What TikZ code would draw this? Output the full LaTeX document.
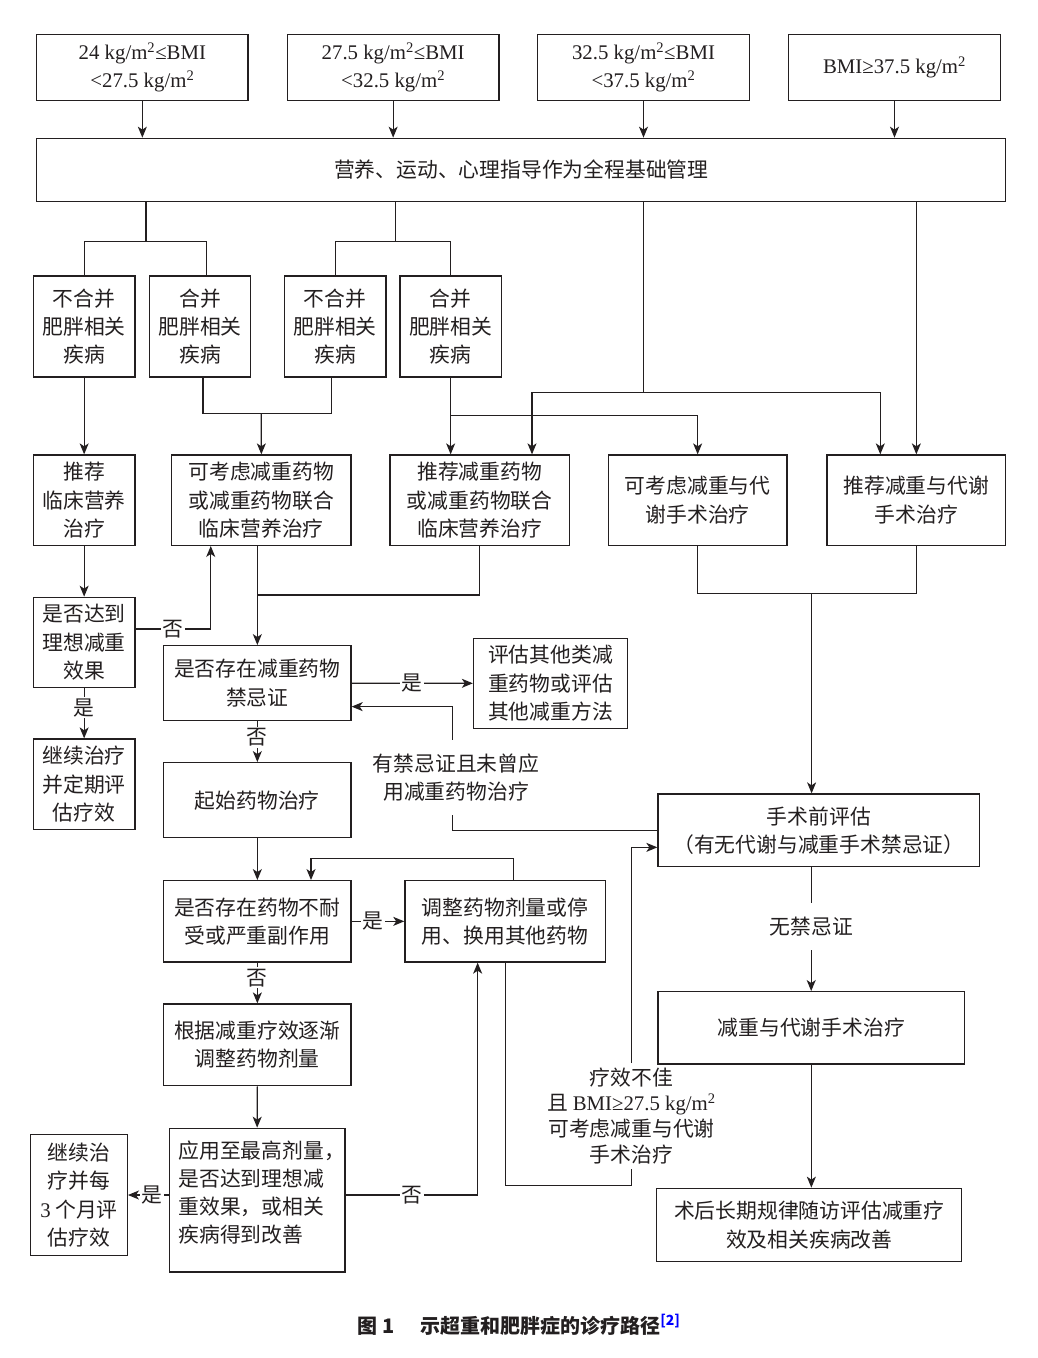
\documentclass[tikz,border=0pt]{standalone}
\usepackage{fontspec}
\setmainfont{Liberation Serif}
\newfontfamily\cjk{Noto Sans CJK SC}
\usetikzlibrary{arrows.meta,calc}
\definecolor{ink}{RGB}{35,31,32}
\newcommand\fs{\fontsize{20.8}{28.3}\selectfont}
\newcommand\lat[1]{{\rmfamily #1}}
\newcommand\msq{m\textsuperscript{2}}
\newcommand\bx[6]{\node[fbox, minimum width={(#4)-(#2)}, minimum height={(#5)-(#3)}] (#1) at ({((#2)+(#4))/2},{((#3)+(#5))/2}) {#6};}
\begin{document}
\begin{tikzpicture}[x=1pt,y=-1pt,
  every node/.style={text=ink, font=\cjk\fs},
  fbox/.style={draw=ink, line width=1.3pt, inner sep=0pt, align=center},
  conn/.style={draw=ink, line width=1.2pt},
  arr/.style={conn, -{Stealth[length=11pt,width=9pt,inset=3pt]}},
  lbl/.style={fill=white, inner sep=1.5pt},
]
\fill[white] (0,0) rectangle (1037,1358);
\useasboundingbox (0,0) rectangle (1037,1358);

% boxes
\bx{t1}{36.7}{34.3}{248}{100.7}{\lat{24 kg/\msq≤BMI}\\\lat{<27.5 kg/\msq}}
\bx{t2}{287.3}{34.3}{499}{100.7}{\lat{27.5 kg/\msq≤BMI}\\\lat{<32.5 kg/\msq}}
\bx{t3}{537.7}{34.3}{749.3}{100.7}{\lat{32.5 kg/\msq≤BMI}\\\lat{<37.5 kg/\msq}}
\bx{t4}{788.7}{34.3}{1000.3}{100.7}{\lat{BMI≥37.5 kg/\msq}}
\bx{base}{36.7}{138.3}{1005.7}{201.7}{营养、运动、心理指导作为全程基础管理}
\bx{A}{33.3}{276}{135}{377}{不合并\\肥胖相关\\疾病}
\bx{B}{149.3}{276}{250.7}{377}{合并\\肥胖相关\\疾病}
\bx{C}{284.3}{276}{386}{377}{不合并\\肥胖相关\\疾病}
\bx{D}{400}{276}{501.3}{377}{合并\\肥胖相关\\疾病}
\bx{E}{33.3}{455}{135}{545.3}{推荐\\临床营养\\治疗}
\bx{F}{171.7}{455}{351}{545.3}{可考虑减重药物\\或减重药物联合\\临床营养治疗}
\bx{G}{390}{455}{569.3}{545.3}{推荐减重药物\\或减重药物联合\\临床营养治疗}
\bx{H}{608.3}{455}{787}{545.3}{可考虑减重与代\\谢手术治疗}
\bx{I}{827}{455}{1005.7}{545.3}{推荐减重与代谢\\手术治疗}
\bx{Q1}{33.3}{597.3}{135}{687.3}{是否达到\\理想减重\\效果}
\bx{C1}{33.3}{739}{135}{829.3}{继续治疗\\并定期评\\估疗效}
\bx{J}{163.7}{645.7}{351}{720.7}{是否存在减重药物\\禁忌证}
\bx{K}{473.5}{638.3}{627.4}{728.3}{评估其他类减\\重药物或评估\\其他减重方法}
\bx{L}{163.7}{762.7}{351}{837.7}{起始药物治疗}
\bx{M}{658}{794}{979.8}{866.7}{手术前评估\\（有无代谢与减重手术禁忌证）}
\bx{O}{163.7}{880.7}{351}{962}{是否存在药物不耐\\受或严重副作用}
\bx{N}{404.9}{880.7}{605.4}{962}{调整药物剂量或停\\用、换用其他药物}
\bx{S}{163.7}{1004}{351}{1085.7}{根据减重疗效逐渐\\调整药物剂量}
\bx{P}{169.3}{1128.3}{345}{1272}{}
\node[anchor=west, align=left, inner sep=0pt] (Ptxt) at (178.3,1192.5) {应用至最高剂量，\\是否达到理想减\\重效果，或相关\\疾病得到改善};
\bx{T}{30.7}{1134.3}{127.3}{1255.7}{继续治\\疗并每\\\lat{3} 个月评\\估疗效}
\bx{Q}{658}{991.7}{964.7}{1064}{减重与代谢手术治疗}
\bx{R}{656.7}{1188.3}{961.7}{1261.7}{术后长期规律随访评估减重疗\\效及相关疾病改善}

% free labels
\node[minimum height=75, inner sep=0pt, align=center] (L1) at (456,777.5) {有禁忌证且未曾应\\用减重药物治疗};
\node[minimum height=105, inner sep=0pt, align=center, font=\cjk\fontsize{20.8}{25.6}\selectfont] (L2) at (631.5,1115.8) {疗效不佳\\且 \lat{BMI≥27.5 kg/\msq}\\可考虑减重与代谢\\手术治疗};
\node[minimum height=46.7, inner sep=0pt] (L3) at (811.2,926.7) {无禁忌证};

% junction points
\coordinate (j1) at (146,241.7);
\coordinate (j2) at (395.3,241.7);
\coordinate (m7) at (643.7,392.3);
\coordinate (m7l) at (532,392.3);
\coordinate (m7r) at (880.3,392.3);
\coordinate (m1) at (261.3,413.7);
\coordinate (m2) at (450.7,415.7);
\coordinate (m3) at (257.3,595);
\coordinate (m6) at (811.6,593.3);
\coordinate (m4) at (311,858.3);
\coordinate (m5) at (631.5,1185.7);

% connectors
\foreach \t in {t1,t2,t3,t4} \draw[arr] (\t.south) -- (\t.south |- base.north);
\draw[conn] (base.south -| j1) -- (j1) -| (A.north);
\draw[conn] (j1) -| ([xshift=6.7pt]B.north);
\draw[conn] (base.south -| j2) -- (j2) -| (C.north);
\draw[conn] (j2) -| (D.north);
\draw[conn] (base.south -| m7) -- (m7);
\draw[arr] (m7) -- (m7l) -- (m7l |- G.north);
\draw[arr] (m7) -- (m7r) -- (m7r |- I.north);
\draw[arr] (base.south -| I.north) -- (I.north);
\draw[arr] (A.south) -- (E.north);
\draw[conn] ([xshift=3pt]B.south) |- (m1) -| ([xshift=-4pt]C.south);
\draw[arr] (m1) -- (F.north);
\draw[arr] (D.south) -- (D.south |- G.north);
\draw[arr] (m2) -| (H.north);

\draw[arr] (E.south) -- (Q1.north);
\draw[arr] (Q1.south) -- node[lbl,pos=0.39]{是} (C1.north);
\draw[arr] ([yshift=13.3pt]Q1.east) -| node[lbl,pos=0.25]{否} ([xshift=-50.6pt]F.south);
\draw[arr] (J.north |- F.south) -- (J.north);
\draw[conn] (G.south) |- (m3);
\draw[arr] (J.east) -- node[lbl]{是} (K.west);
\draw[conn] (M.west) -| ([xshift=-3.7pt]L1.south);
\draw[arr] ([xshift=-3.7pt]L1.north) |- ([yshift=-23.4pt]J.east);
\draw[arr] (J.south) -- node[lbl,pos=0.4]{否} (L.north);
\draw[arr] (L.south) -- (O.north);
\draw[arr] (O.east) -- node[lbl,pos=0.4]{是} (N.west);
\draw[arr] ([xshift=8pt]N.north) |- (m4) -- (m4 |- O.north);
\draw[arr] (O.south) -- node[lbl,pos=0.37]{否} (S.north);
\draw[arr] (S.south) -- (P.north);
\draw[arr] (P.west |- T.east) -- node[lbl,pos=0.4]{是} (T.east);
\draw[arr] (P.east |- T.east) -| node[lbl,pos=0.25]{否} ([xshift=-27.5pt]N.south);
\draw[conn] (N.south) |- (m5) -- (L2.south);
\draw[arr] (L2.north) |- ([yshift=-17pt]M.west);

\draw[conn] (H.south) |- (m6) -| (I.south);
\draw[arr] (m6) -- (m6 |- M.north);
\draw[conn] (L3.north |- M.south) -- (L3.north);
\draw[arr] (L3.south) -- (L3.south |- Q.north);
\draw[arr] (Q.south) -- (Q.south |- R.north);

% caption
\node[font=\cjk\bfseries\fontsize{20}{24}\selectfont] (cap) at (519,1325) {图 1\hspace{1.3em}示超重和肥胖症的诊疗路径\textsuperscript{\color{blue}[2]}};
\end{tikzpicture}
\end{document}
